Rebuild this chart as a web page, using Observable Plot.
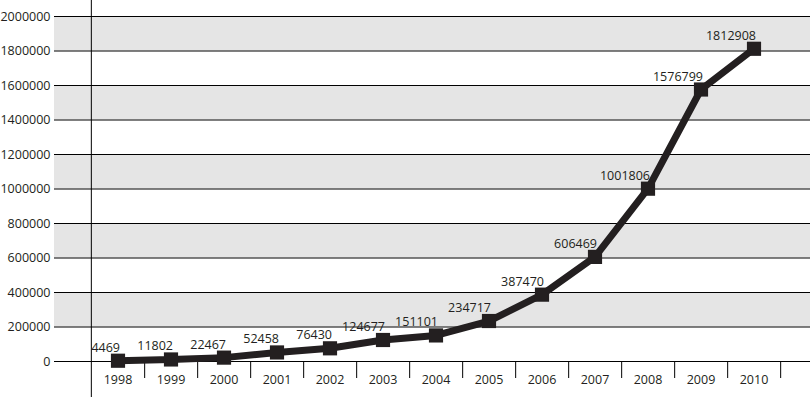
<!DOCTYPE html>
<html>
<head>
<meta charset="utf-8">
<script src="https://cdn.jsdelivr.net/npm/d3@7"></script>
<script src="https://cdn.jsdelivr.net/npm/@observablehq/plot@0.6"></script>
<style>
  html, body { margin: 0; padding: 0; background: white; }
</style>
</head>
<body>
<div id="chart"></div>
<script>
const years = ["1998","1999","2000","2001","2002","2003","2004","2005","2006","2007","2008","2009","2010"];
const values = [4469, 11802, 22467, 52458, 76430, 124677, 151101, 234717, 387470, 606469, 1001806, 1576799, 1812908];
const yTicks = [0, 200000, 400000, 600000, 800000, 1000000, 1200000, 1400000, 1600000, 1800000, 2000000];
const shadedBands = [200000, 600000, 1000000, 1400000, 1800000];
const bandHeight = 200000;

const data = years.map((year, i) => ({year, value: values[i]}));

const xRange = [88.7, 782];
const halfStep = (xRange[1] - xRange[0]) / years.length / 2;
const ink = "#231f20";

const chart = Plot.plot({
  width: 810,
  height: 397,
  marginTop: 16,
  marginBottom: 36,
  marginLeft: 54,
  marginRight: 0,
  style: {fontFamily: "'Open Sans', sans-serif", fontSize: "12.5px", color: ink, background: "white"},
  x: {type: "band", domain: years, range: xRange, padding: 0},
  y: {domain: [0, 2000000]},
  marks: [
    Plot.rect(shadedBands, {y1: d => d, y2: d => d + bandHeight, fill: "#e5e5e5"}),
    Plot.ruleY(yTicks, {stroke: "black", strokeWidth: 1}),
    Plot.axisY({ticks: yTicks, tickSize: 0, tickPadding: 4, tickFormat: d3.format("d"), label: null, fill: ink}),
    Plot.axisX({tickSize: 0, tickPadding: 14, label: null, fill: ink}),
    Plot.axisX({tickSize: 17, tickFormat: () => "", dx: halfStep, label: null, stroke: "black"}),
    Plot.tickX([years[0]], {x: d => d, dx: -halfStep, insetTop: -16, insetBottom: -36, stroke: "black"}),
    Plot.line(data, {x: "year", y: "value", stroke: ink, strokeWidth: 7, strokeLinejoin: "miter"}),
    Plot.dot(data, {x: "year", y: "value", symbol: "square", r: 8, fill: ink, stroke: "none"}),
    Plot.text(data, {x: "year", y: "value", text: d => String(d.value), textAnchor: "end", dx: 2, dy: -13, fill: ink})
  ]
});
document.getElementById("chart").appendChild(chart);
</script>
</body>
</html>
